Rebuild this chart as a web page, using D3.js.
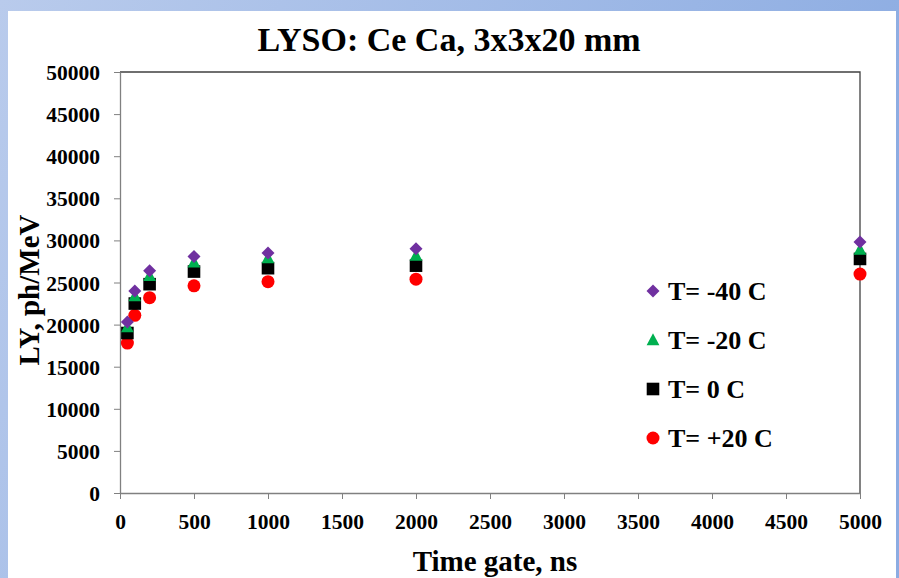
<!DOCTYPE html>
<html><head><meta charset="utf-8">
<script src="https://cdn.jsdelivr.net/npm/d3@7"></script>
<style>
html,body{margin:0;padding:0;}
body{width:899px;height:578px;overflow:hidden;}
text{font-family:"Liberation Serif","Times New Roman",serif;font-weight:bold;fill:#000;}
</style></head>
<body><svg id="c" width="899" height="578"></svg>
<script>
const timeGates = [50, 100, 200, 500, 1000, 2000, 5000];
const seriesNames = ["T= -40 C", "T= -20 C", "T= 0 C", "T= +20 C"];
const lyM40 = [20300, 24000, 26400, 28100, 28500, 29000, 29800];
const lyM20 = [19700, 23400, 25800, 27400, 27900, 28200, 28900];
const ly0   = [19000, 22500, 24800, 26300, 26700, 27000, 27800];
const lyP20 = [17800, 21100, 23200, 24600, 25100, 25400, 26000];
const xTicks = [0, 500, 1000, 1500, 2000, 2500, 3000, 3500, 4000, 4500, 5000];
const yTicks = [0, 5000, 10000, 15000, 20000, 25000, 30000, 35000, 40000, 45000, 50000];
const seriesColors = ["#7030a0", "#00b050", "#000000", "#ff0000"];

// marker shapes (pixel geometry)
const shapeDiamond = "M0,-6.5L6.5,0L0,6.5L-6.5,0Z";
const shapeTriangle = "M0,-6.8L6.4,5.2L-6.4,5.2Z";
const shapeSquare = "M-6.3,-6.3H6.3V6.3H-6.3Z";
const shapeCircle = d3.symbol().type(d3.symbolCircle).size(Math.PI*6.5*6.5)();
const seriesShapes = [shapeDiamond, shapeTriangle, shapeSquare, shapeCircle];

const svg = d3.select("#c");
const defs = svg.append("defs");
const g1 = defs.append("linearGradient").attr("id","bg").attr("x1","0").attr("y1","0").attr("x2","1").attr("y2","0.3");
g1.append("stop").attr("offset","0").attr("stop-color","#b9cbec");
g1.append("stop").attr("offset","1").attr("stop-color","#8cace2");
svg.append("rect").attr("width",899).attr("height",578).attr("fill","url(#bg)");
svg.append("rect").attr("x",8).attr("y",11).attr("width",888).attr("height",567).attr("fill","#fff");

const m = {l:120, r:860, t:72, b:493};
const x = d3.scaleLinear().domain([0,5000]).range([m.l, m.r]);
const y = d3.scaleLinear().domain([0,50000]).range([m.b, m.t]);

svg.append("path").attr("d",`M${m.l},${m.t}H${m.r}V${m.b}`).attr("fill","none").attr("stroke","#404040").attr("stroke-width",1.3);

const xa = svg.append("g").attr("transform",`translate(0,${m.b})`)
  .call(d3.axisBottom(x).tickValues(xTicks).tickSize(6).tickSizeOuter(0).tickPadding(12).tickFormat(d3.format("d")));
const ya = svg.append("g").attr("transform",`translate(${m.l},0)`)
  .call(d3.axisLeft(y).tickValues(yTicks).tickSize(6).tickSizeOuter(0).tickPadding(14).tickFormat(d3.format("d")));
[xa,ya].forEach(a=>{
  a.selectAll("path.domain").attr("stroke","#808080").attr("stroke-width",1.3);
  a.selectAll(".tick line").attr("stroke","#808080");
  a.selectAll("text").style("font-family",'"Liberation Serif",serif').style("font-weight","bold").style("font-size","21.5px").attr("fill","#000");
});
xa.selectAll("text").attr("dy","0.85em");
ya.selectAll("text").attr("dy","0.35em");

const all = [lyM40, lyM20, ly0, lyP20];
[3,2,1,0].forEach(i=>{
  svg.append("g").selectAll("path").data(timeGates.map((t,j)=>[t, all[i][j]])).join("path")
    .attr("transform",d=>`translate(${x(d[0])},${y(d[1])})`)
    .attr("d",seriesShapes[i])
    .attr("fill",seriesColors[i]);
});

const lg = svg.append("g");
seriesNames.forEach((n,i)=>{
  const yy = 291 + i*49;
  lg.append("path").attr("transform",`translate(653,${yy})`).attr("d",seriesShapes[i]).attr("fill",seriesColors[i]);
  lg.append("text").attr("x",668).attr("y",yy).attr("dy","0.35em").style("font-size","26px").text(n);
});

svg.append("text").attr("x",449).attr("y",51).attr("text-anchor","middle").style("font-size","34px").text("LYSO: Ce Ca, 3x3x20 mm");
svg.append("text").attr("x",495).attr("y",571).attr("text-anchor","middle").style("font-size","29px").text("Time gate, ns");
svg.append("text").attr("transform","translate(39,290) rotate(-90)").attr("text-anchor","middle").style("font-size","29px").text("LY, ph/MeV");
</script></body></html>
